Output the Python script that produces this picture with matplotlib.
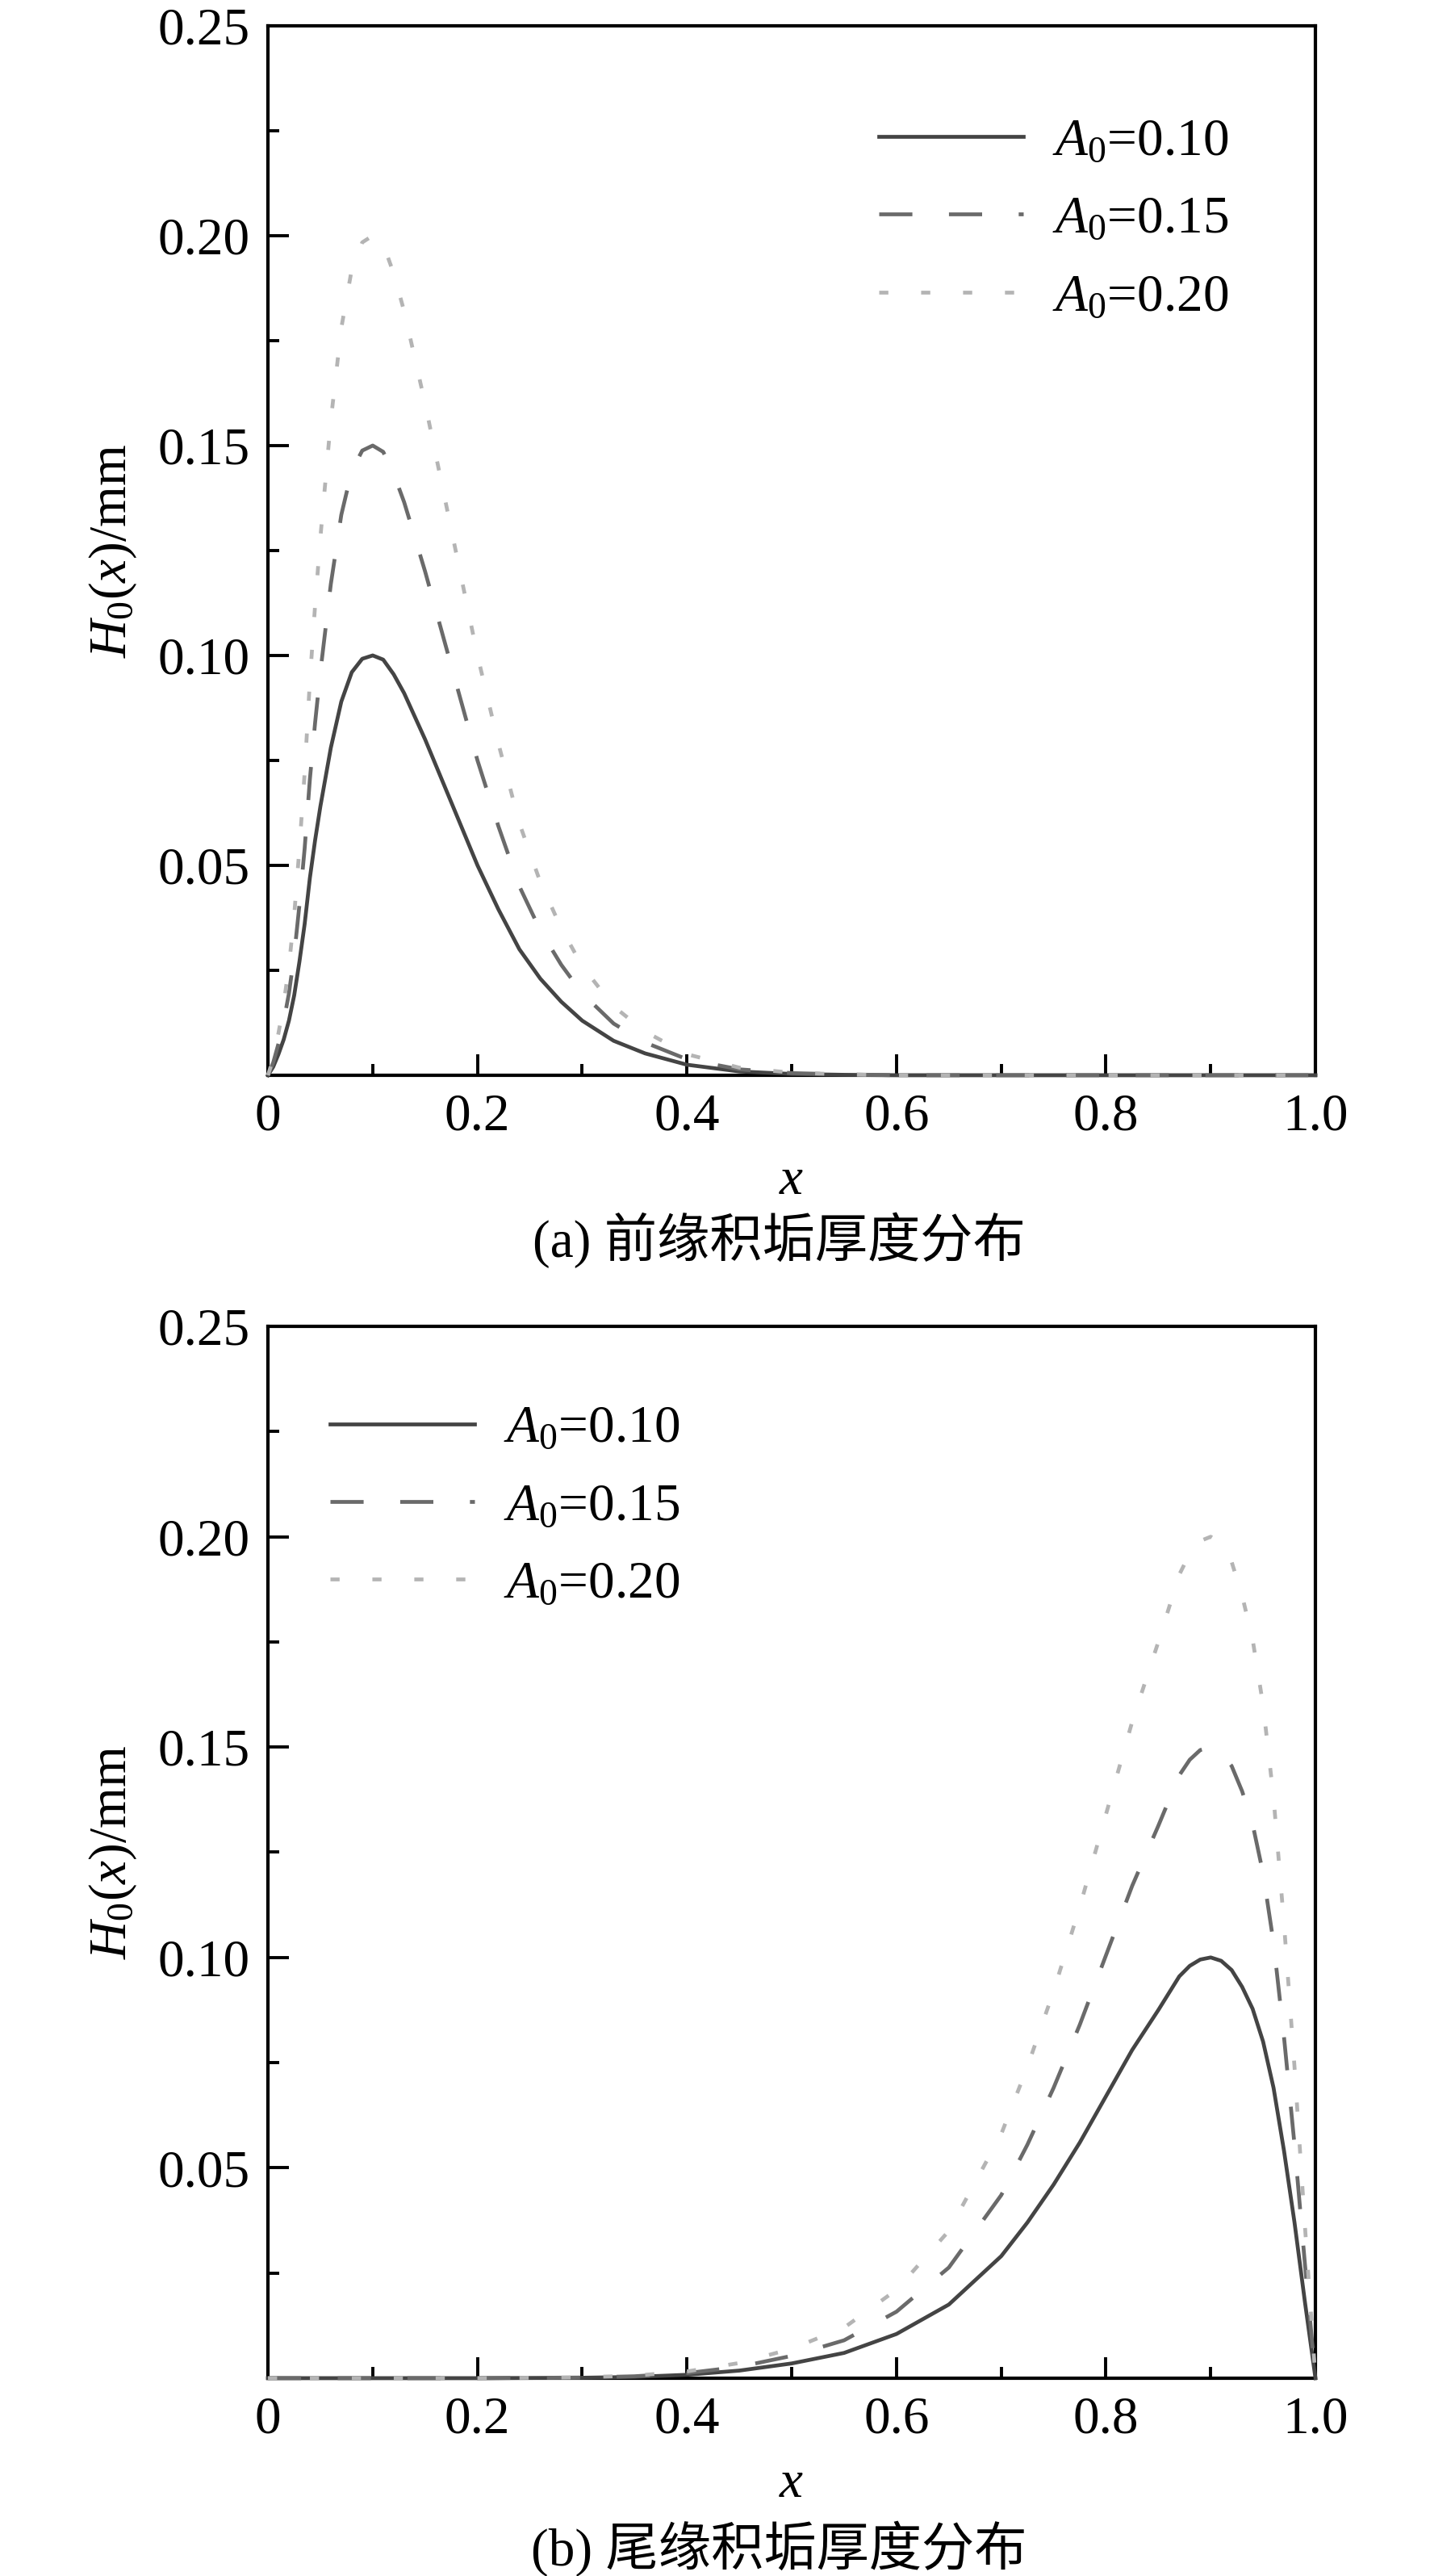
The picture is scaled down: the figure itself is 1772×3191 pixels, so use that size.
import numpy as np
import matplotlib
matplotlib.use('Agg')
import matplotlib.pyplot as plt
from matplotlib.ticker import MultipleLocator, FixedLocator

plt.rcParams['font.family'] = ['Liberation Serif', 'Noto Sans CJK SC']
plt.rcParams['mathtext.fontset'] = 'custom'
plt.rcParams['mathtext.rm'] = 'Liberation Serif'
plt.rcParams['mathtext.it'] = 'Liberation Serif:italic'
plt.rcParams['font.size'] = 23.5

# (a) leading edge
xa = [0, 0.005, 0.01, 0.015, 0.02, 0.025, 0.03, 0.035, 0.04, 0.045, 0.05, 0.055,
      0.06, 0.07, 0.08, 0.09, 0.10, 0.11, 0.12, 0.13, 0.14, 0.15, 0.16, 0.17,
      0.18, 0.19, 0.20, 0.22, 0.24, 0.26, 0.28, 0.30, 0.33, 0.36, 0.40,
      0.45, 0.50, 0.55, 0.60, 0.70, 0.80, 0.90, 1.00]
ha_010 = [0, 0.002, 0.005, 0.0085, 0.013, 0.019, 0.027, 0.036, 0.047, 0.056, 0.064,
          0.071, 0.078, 0.089, 0.096, 0.0992, 0.100, 0.0990, 0.0955, 0.091, 0.0855,
          0.080, 0.074, 0.068, 0.062, 0.056, 0.050, 0.0395, 0.030, 0.023, 0.0175,
          0.013, 0.0082, 0.0052, 0.0025, 0.0009, 0.0003, 0.0001, 0, 0, 0, 0, 0]
ha_015 = [0, 0.003, 0.0075, 0.0128, 0.0195, 0.0285, 0.0405, 0.054, 0.0705, 0.084, 0.096,
          0.1065, 0.117, 0.1335, 0.144, 0.1488, 0.150, 0.1485, 0.1433, 0.1365, 0.1283,
          0.120, 0.111, 0.102, 0.093, 0.084, 0.075, 0.0593, 0.045, 0.0345, 0.0263,
          0.0195, 0.0123, 0.0078, 0.0038, 0.0014, 0.0005, 0.0002, 0, 0, 0, 0, 0]
ha_020 = [0, 0.004, 0.010, 0.017, 0.026, 0.038, 0.054, 0.072, 0.094, 0.112, 0.128,
          0.142, 0.156, 0.178, 0.192, 0.1984, 0.200, 0.198, 0.191, 0.182, 0.171,
          0.160, 0.148, 0.136, 0.124, 0.112, 0.100, 0.079, 0.060, 0.046, 0.035,
          0.026, 0.0164, 0.0104, 0.005, 0.0018, 0.0006, 0.0002, 0, 0, 0, 0, 0]

# (b) trailing edge
xb = [0, 0.1, 0.2, 0.3, 0.35, 0.40, 0.45, 0.50, 0.55, 0.60, 0.65, 0.70, 0.725, 0.75,
      0.775, 0.80, 0.825, 0.85, 0.87, 0.88, 0.89, 0.90, 0.91, 0.92, 0.93, 0.94, 0.95,
      0.96, 0.97, 0.98, 0.99, 1.00]
hb_010 = [0, 0, 0, 0.0001, 0.0003, 0.0008, 0.0018, 0.0035, 0.006, 0.0105, 0.0175,
          0.029, 0.037, 0.046, 0.056, 0.067, 0.078, 0.0875, 0.0955, 0.098, 0.0995, 0.100,
          0.0992, 0.097, 0.093, 0.0878, 0.080, 0.069, 0.054, 0.037, 0.018, 0]
hb_015 = [0, 0, 0, 0.00015, 0.00045, 0.0012, 0.0027, 0.0053, 0.009, 0.0158, 0.0263,
          0.0435, 0.0555, 0.069, 0.084, 0.1005, 0.117, 0.1313, 0.1433, 0.147, 0.1493, 0.150,
          0.1488, 0.1455, 0.1395, 0.1317, 0.120, 0.1035, 0.081, 0.0555, 0.027, 0]
hb_020 = [0, 0, 0, 0.0002, 0.0006, 0.0016, 0.0036, 0.007, 0.012, 0.021, 0.035,
          0.058, 0.074, 0.092, 0.112, 0.134, 0.156, 0.175, 0.191, 0.196, 0.199, 0.200,
          0.1984, 0.194, 0.186, 0.1756, 0.160, 0.138, 0.108, 0.074, 0.036, 0]

labels = [r'$A_0$=0.10', r'$A_0$=0.15', r'$A_0$=0.20']
xticks = [0, 0.2, 0.4, 0.6, 0.8, 1.0]
xticklabels = ['0', '0.2', '0.4', '0.6', '0.8', '1.0']
yticks = [0.05, 0.10, 0.15, 0.20, 0.25]
yticklabels = ['0.05', '0.10', '0.15', '0.20', '0.25']
captions = ['(a) 前缘积垢厚度分布', '(b) 尾缘积垢厚度分布']

lw = 1.7
styles = [dict(color='#444444', ls='-'),
          dict(color='#6a6a6a', ls=(0, (8.7, 9.6))),
          dict(color='#b4b4b4', ls=(0, (2.4, 8.6)))]

fig = plt.figure(figsize=(8.86, 15.955), dpi=200)
ax1 = fig.add_axes([0.1874, 0.5826, 0.7325, 0.4074])
ax2 = fig.add_axes([0.1874, 0.0768, 0.7325, 0.4083])

panels = [(ax1, xa, [ha_010, ha_015, ha_020], (0.583, 0.912)),
          (ax2, xb, [hb_010, hb_015, hb_020], (0.059, 0.925))]

for i, (ax, xs, ys, lpos) in enumerate(panels):
    for y, st, lab in zip(ys, styles, labels):
        ax.plot(xs, y, lw=lw, label=lab, clip_on=False, zorder=3, **st)
    ax.set_xlim(0, 1)
    ax.set_ylim(0, 0.25)
    ax.xaxis.set_major_locator(FixedLocator(xticks))
    ax.set_xticklabels(xticklabels)
    ax.xaxis.set_minor_locator(MultipleLocator(0.1))
    ax.yaxis.set_major_locator(FixedLocator(yticks))
    ax.set_yticklabels(yticklabels)
    ax.yaxis.set_minor_locator(MultipleLocator(0.025))
    ax.tick_params(which='both', direction='in', top=False, right=False, width=1.4)
    ax.tick_params(which='major', length=9.5, pad=8)
    ax.tick_params(which='minor', length=5)
    for s in ax.spines.values():
        s.set_linewidth(1.5)
    ax.set_xlabel(r'$x$')
    ax.xaxis.set_label_coords(0.5, -0.078)
    ax.set_ylabel(r'$H_0(x)$/mm')
    ax.yaxis.set_label_coords(-0.123, 0.5)
    ax.legend(loc='upper left', bbox_to_anchor=lpos, frameon=False,
              handlelength=2.75, handletextpad=0.55, labelspacing=0.56,
              borderpad=0, borderaxespad=0)

fig.text(0.545, 0.5186, captions[0], ha='center', va='center')
fig.text(0.545, 0.0105, captions[1], ha='center', va='center')

fig.savefig('out.png', dpi=200)
